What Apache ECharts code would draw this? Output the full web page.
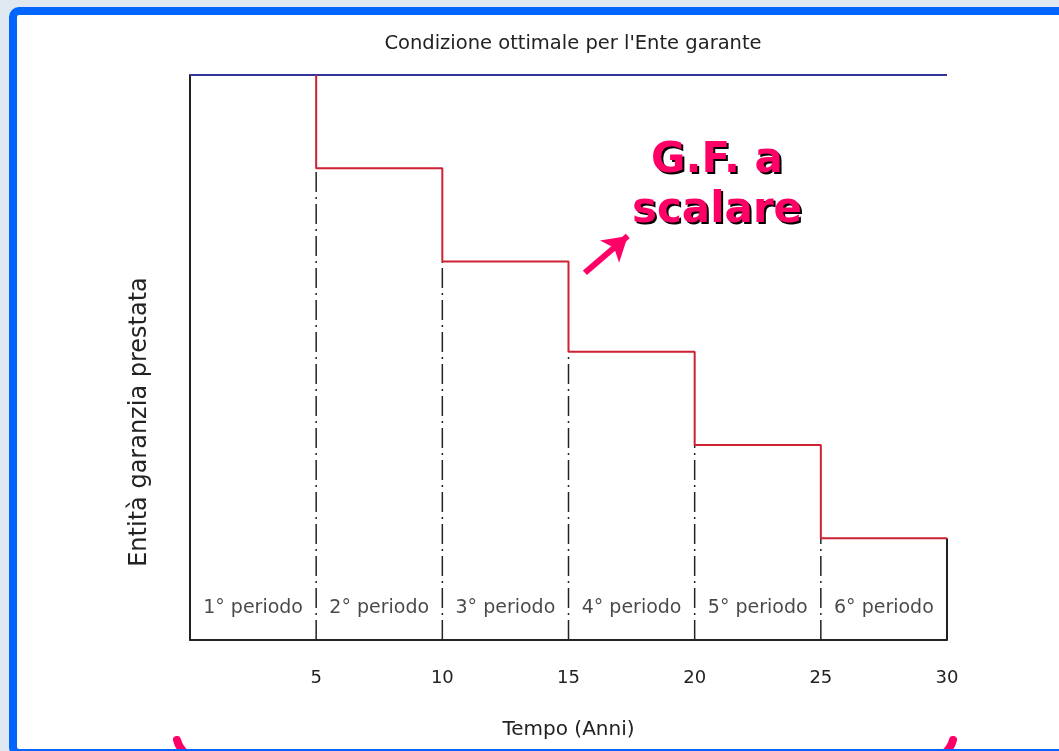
<!DOCTYPE html>
<html>
<head>
<meta charset="utf-8">
<script src="https://cdn.jsdelivr.net/npm/echarts@6/dist/echarts.min.js"></script>
<style>
  html, body { margin: 0; padding: 0; background: #dfe7f1; }
  #chart { width: 1059px; height: 751px; }
</style>
</head>
<body>
<div id="chart"></div>
<script>
// confini dei periodi (anni) e livello di garanzia per periodo
const bounds = [0, 5, 10, 15, 20, 25, 30];
const levels = [100, 83.5, 67, 51, 34.5, 18];
const periodLabels = ['1° periodo', '2° periodo', '3° periodo', '4° periodo', '5° periodo', '6° periodo'];
const labelLevel = 5.7;

const font = 'DejaVu Sans';
const pink = '#ff0066';

// scalino rosso
const stepData = [];
for (let i = 1; i < levels.length; i++) {
  stepData.push([bounds[i], levels[i - 1]]);
  stepData.push([bounds[i], levels[i]]);
}
stepData.push([bounds[bounds.length - 1], levels[levels.length - 1]]);

// linee tratto-punto
const dashSeries = [];
for (let i = 1; i < bounds.length - 1; i++) {
  dashSeries.push({
    type: 'line',
    data: [[bounds[i], 0], [bounds[i], levels[i]]],
    symbol: 'none',
    silent: true,
    lineStyle: { color: '#222', width: 1.5, type: [20, 5, 2, 5] },
    z: 1
  });
}

const gfText = {
  text: 'G.F. a\nscalare',
  fontFamily: font, fontSize: 42, fontWeight: 'bold',
  lineHeight: 50, textAlign: 'center', textVerticalAlign: 'middle'
};

const option = {
  backgroundColor: '#dfe7f1',
  animation: false,
  title: {
    text: "Condizione ottimale per l'Ente garante",
    left: 568,
    top: 29,
    textAlign: 'center',
    textStyle: { fontFamily: font, fontSize: 19.5, fontWeight: 'normal', color: '#222' }
  },
  grid: { left: 190, top: 75, width: 757, height: 565, containLabel: false },
  xAxis: {
    type: 'value',
    min: 0,
    max: 30,
    interval: 5,
    name: 'Tempo (Anni)',
    nameLocation: 'middle',
    nameGap: 80,
    nameTextStyle: { fontFamily: font, fontSize: 20, color: '#222' },
    axisLine: { lineStyle: { color: '#222', width: 2 } },
    axisTick: { show: false },
    splitLine: { show: false },
    axisLabel: {
      fontFamily: font, fontSize: 18, color: '#222', margin: 29,
      formatter: v => (v === 0 ? '' : v)
    }
  },
  yAxis: {
    type: 'value',
    min: 0,
    max: 100,
    axisLine: { show: true, lineStyle: { color: '#222', width: 2 } },
    axisTick: { show: false },
    axisLabel: { show: false },
    splitLine: { show: false }
  },
  graphic: [
    {
      type: 'rect', z: -10, silent: true,
      shape: { x: 13, y: 11, width: 1200, height: 742, r: 6 },
      style: { fill: '#fff', stroke: null }
    },
    {
      type: 'text', z: 5, silent: true,
      x: 140, y: 422, rotation: Math.PI / 2,
      style: {
        text: 'Entità garanzia prestata',
        fontFamily: font, fontSize: 24, fill: '#222',
        textAlign: 'center', textVerticalAlign: 'middle'
      }
    },
    {
      type: 'text', z: 19, silent: true,
      x: 719, y: 188,
      style: Object.assign({ fill: '#000' }, gfText)
    },
    {
      type: 'text', z: 20, silent: true,
      x: 717, y: 186,
      style: Object.assign({ fill: pink }, gfText)
    },
    {
      type: 'bezierCurve', z: 5, silent: true,
      shape: { x1: 177, y1: 740, cpx1: 179, cpy1: 748, x2: 186, y2: 754 },
      style: { stroke: pink, lineWidth: 8, lineCap: 'round', fill: null }
    },
    {
      type: 'bezierCurve', z: 5, silent: true,
      shape: { x1: 953, y1: 740, cpx1: 951, cpy1: 748, x2: 944, y2: 754 },
      style: { stroke: pink, lineWidth: 8, lineCap: 'round', fill: null }
    },
    {
      type: 'rect', z: 10, silent: true,
      shape: { x: 13, y: 11, width: 1200, height: 742, r: 6 },
      style: { fill: null, stroke: '#0066ff', lineWidth: 8 }
    }
  ],
  series: [
    {
      type: 'line',
      data: [[bounds[0], levels[0]], [bounds[bounds.length - 1], levels[0]]],
      symbol: 'none',
      clip: false,
      lineStyle: { color: '#33339a', width: 2 },
      z: 3
    },
    {
      type: 'line',
      data: stepData,
      symbol: 'none',
      clip: false,
      lineStyle: { color: '#cc2233', width: 2 },
      z: 4
    },
    {
      type: 'line',
      data: [[bounds[bounds.length - 1], 0], [bounds[bounds.length - 1], levels[levels.length - 1]]],
      symbol: 'none',
      lineStyle: { color: '#222', width: 2 },
      z: 3
    },
    ...dashSeries,
    {
      type: 'scatter',
      data: periodLabels.map((t, i) => [(bounds[i] + bounds[i + 1]) / 2, labelLevel, t]),
      symbol: 'rect',
      symbolSize: 1,
      itemStyle: { color: '#fff' },
      silent: true,
      label: {
        show: true, position: 'inside',
        formatter: p => p.data[2],
        fontFamily: font, fontSize: 19, color: '#1a1a1a',
        textBorderWidth: 0, textBorderColor: 'transparent'
      },
      z: 5
    },
    {
      type: 'line',
      data: [],
      silent: true,
      markLine: {
        silent: true,
        symbol: ['none', 'arrow'],
        symbolSize: [22, 24],
        label: { show: false },
        lineStyle: { color: pink, width: 6, type: 'solid' },
        data: [[{ coord: [15.65, 65] }, { coord: [17.35, 71.5] }]]
      }
    }
  ]
};

const chart = echarts.init(document.getElementById('chart'));
chart.setOption(option);
</script>
</body>
</html>
